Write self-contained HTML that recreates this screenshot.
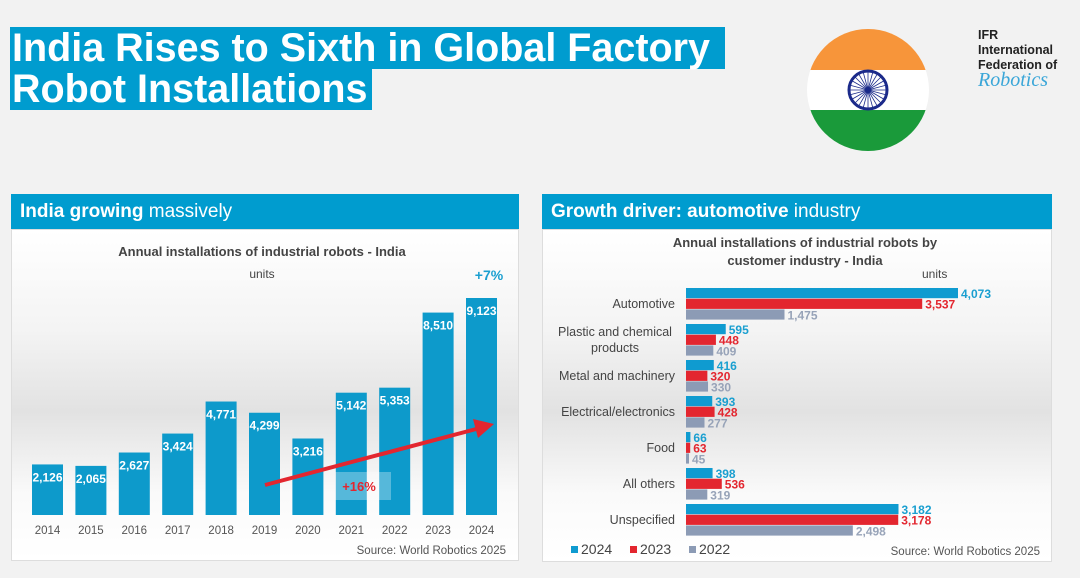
<!DOCTYPE html>
<html><head><meta charset="utf-8"><style>
body{margin:0;width:1080px;height:578px;background:#f2f2f2;font-family:"Liberation Sans",sans-serif;position:relative;overflow:hidden}
.t{position:absolute;left:10px;background:#009ccf;color:#fff;font-weight:bold;font-size:39.5px;line-height:42px;padding:0 4px 0 2px}
.hdr{position:absolute;height:35px;background:#009ccf;color:#fff;font-size:19px;line-height:35px;padding-left:9px;box-sizing:border-box}
.panel{position:absolute;background:linear-gradient(#fff 0%,#f4f4f4 30%,#e2e2e2 55%,#fafafa 80%,#fff);border:1px solid #ddd;box-sizing:border-box}
</style></head><body>
<div class="t" style="top:27px">India Rises to Sixth in Global Factory&nbsp;</div>
<div class="t" style="top:68px">Robot Installations</div>
<svg style="position:absolute;left:806px;top:28px" width="124" height="124">
<defs><clipPath id="c"><circle cx="62" cy="62" r="61"/></clipPath></defs>
<g clip-path="url(#c)"><rect width="124" height="42" fill="#f7953a"/><rect y="42" width="124" height="40" fill="#fff"/><rect y="82" width="124" height="42" fill="#1a9a3a"/></g>
<circle cx="62" cy="62" r="19" fill="none" stroke="#1b2a8a" stroke-width="3"/><circle cx="62" cy="62" r="3" fill="#1b2a8a"/>
<g stroke="#1b2a8a" stroke-width="0.8" id="spokes"></g></svg>
<div style="position:absolute;left:978px;top:28px;font-size:12.5px;font-weight:bold;line-height:15px;color:#222">IFR<br>International<br>Federation of<br><span style="font-family:'Liberation Serif',serif;font-style:italic;font-weight:normal;color:#3aa6d8;font-size:20px">Robotics</span></div>

<div class="panel" style="left:11px;top:229px;width:508px;height:332px"></div>
<div class="hdr" style="left:11px;top:194px;width:508px"><b>India growing</b> massively</div>
<div class="panel" style="left:542px;top:229px;width:510px;height:333px"></div>
<div class="hdr" style="left:542px;top:194px;width:510px"><b>Growth driver: automotive</b> industry</div>

<svg id="left" style="position:absolute;left:0;top:0" width="540" height="578" font-family="Liberation Sans, sans-serif">
<text x="262" y="256" text-anchor="middle" font-size="13" font-weight="bold" fill="#444">Annual installations of industrial robots - India</text>
<text x="262" y="278" text-anchor="middle" font-size="12" fill="#444">units</text>
<text x="489" y="280" text-anchor="middle" font-size="14" font-weight="bold" fill="#1a9fd0">+7%</text>
<g id="lbars"></g>
<rect x="335" y="472" width="56" height="28" fill="#fff" opacity="0.3"/>
<line x1="265" y1="485" x2="480" y2="428" stroke="#e3262f" stroke-width="4"/>
<polygon points="494,424 473,419 478,438" fill="#e3262f"/>
<text x="359" y="491" text-anchor="middle" font-size="13" font-weight="bold" fill="#e3262f">+16%</text>
<text x="506" y="554" text-anchor="end" font-size="11.5" fill="#555">Source: World Robotics 2025</text>
</svg>
<svg id="right" style="position:absolute;left:0;top:0" width="1080" height="578" font-family="Liberation Sans, sans-serif">
<text x="805" y="247" text-anchor="middle" font-size="13" font-weight="bold" fill="#444">Annual installations of industrial robots by</text>
<text x="805" y="265" text-anchor="middle" font-size="13" font-weight="bold" fill="#444">customer industry - India</text>
<text x="922" y="278" font-size="12" fill="#444">units</text>
<g id="rbars"></g>
<g font-size="14" fill="#444">
<rect x="571" y="546" width="7" height="7" fill="#0f9bd0"/><text x="581" y="554">2024</text>
<rect x="630" y="546" width="7" height="7" fill="#e3262f"/><text x="640" y="554">2023</text>
<rect x="689" y="546" width="7" height="7" fill="#8c9bb5"/><text x="699" y="554">2022</text>
</g>
<text x="1040" y="555" text-anchor="end" font-size="11.5" fill="#555">Source: World Robotics 2025</text>
</svg>
<script>
const years=["2014","2015","2016","2017","2018","2019","2020","2021","2022","2023","2024"];
const installs=[2126,2065,2627,3424,4771,4299,3216,5142,5353,8510,9123];
const industries=["Automotive","Plastic and chemical|products","Metal and machinery","Electrical/electronics","Food","All others","Unspecified"];
const s2024=[4073,595,416,393,66,398,3182];
const s2023=[3537,448,320,428,63,536,3178];
const s2022=[1475,409,330,277,45,319,2498];
const NS="http://www.w3.org/2000/svg";
function mk(p,t,a){const e=document.createElementNS(NS,t);for(const k in a)e.setAttribute(k,a[k]);p.appendChild(e);return e;}
const fmt=v=>v.toLocaleString("en-US");
const sp=document.getElementById("spokes");
for(let i=0;i<24;i++){const a=i*Math.PI/12;mk(sp,"line",{x1:62,y1:62,x2:62+18*Math.cos(a),y2:62+18*Math.sin(a)});}
const yL=v=>515-v*217/9123, xL=i=>32+i*43.4;
const lg=document.getElementById("lbars");
years.forEach((y,i)=>{
 const r=mk(lg,"rect",{x:xL(i),y:yL(installs[i]),width:31,height:515-yL(installs[i]),fill:"#0d9acb"});
 
 
 const t=mk(lg,"text",{x:xL(i)+15.5,y:yL(installs[i])+17,"text-anchor":"middle","font-size":"12","font-weight":"bold",fill:"#fff"});t.textContent=fmt(installs[i]);
 
 
 const l=mk(lg,"text",{x:xL(i)+15.5,y:534,"text-anchor":"middle","font-size":"11.5",fill:"#555"});l.textContent=y;
 
 
});
const xR=v=>v*272/4073, x0=686;
const rg=document.getElementById("rbars");
const series=[[s2024,"#0f9bd0","#1a9fd0","2024"],[s2023,"#e3262f","#e3262f","2023"],[s2022,"#8c9bb5","#97a3b8","2022"]];
industries.forEach((name,g)=>{
 const top=288+g*36;
 series.forEach((s,k)=>{
  const v=s[0][g],y=top+k*10.7;
  const r=mk(rg,"rect",{x:x0,y:y,width:xR(v),height:10.2,fill:s[1]});
  
  
  const t=mk(rg,"text",{x:x0+xR(v)+3,y:y+10,"font-size":"12","font-weight":"bold",fill:s[2]});t.textContent=fmt(v);
  
  
 });
 const parts=name.split("|");
 parts.forEach((p,j)=>{
  const t=mk(rg,"text",{x:parts.length>1?615:675,y:top+20+(parts.length>1?(j*16-8):0),"text-anchor":parts.length>1?"middle":"end","font-size":"12.5",fill:"#444"});t.textContent=p;
  
  
 });
});
</script>
</body></html>
